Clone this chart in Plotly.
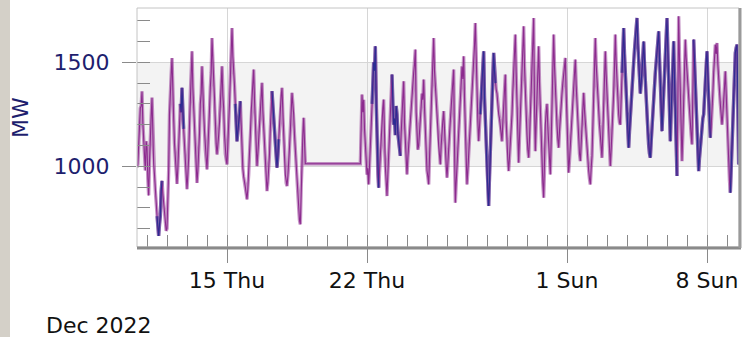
import pandas as pd
import plotly.graph_objects as go

# Grid load, hourly samples, two recorded stretches
seg1_start = "2022-12-10 12:00"
seg1_mw = [
    995, 1010, 1100, 1230, 1280, 1290, 1360, 1210, 1120, 1060,
    980, 1120, 1090, 940, 860, 1020, 1180, 1240, 1330, 1150,
    1010, 960, 880, 830, 760, 700, 665, 720, 760, 880,
    930, 870, 820, 790, 740, 690, 700, 820, 980, 1250,
    1400, 1440, 1520, 1300, 1230, 1110, 1020, 960, 915, 990,
    1080, 1150, 1300, 1260, 1377, 1250, 1180, 1060, 990, 940,
    890, 960, 1040, 1200, 1350, 1420, 1553, 1380, 1300, 1220,
    1080, 1010, 920, 980, 1060, 1160, 1300, 1350, 1481, 1330,
    1260, 1170, 1080, 1040, 985, 1060, 1130, 1270, 1380, 1450,
    1617, 1480, 1420, 1330, 1200, 1110, 1057, 1090, 1150, 1210,
    1320, 1380, 1481, 1340, 1280, 1150, 1060, 1030, 1009, 1090,
    1200, 1300, 1420, 1520, 1665, 1530, 1480, 1390, 1300, 1200,
    1120, 1170, 1200, 1250, 1313, 1180, 1050, 990, 950, 930,
    900, 870, 841, 890, 960, 1060, 1150, 1260, 1350, 1400,
    1465, 1320, 1230, 1100, 1001, 1060, 1120, 1200, 1290, 1330,
    1401, 1270, 1180, 1080, 1000, 930, 881, 920, 980, 1060,
    1180, 1280, 1361, 1290, 1230, 1150, 1080, 1040, 993, 1050,
    1130, 1210, 1290, 1340, 1377, 1240, 1150, 1050, 960, 920,
    905, 950, 1000, 1090, 1170, 1280, 1353, 1300, 1250, 1150,
    1080, 990, 930, 860, 800, 740, 721, 900, 1050, 1150,
    1233, 1100, 1012,
]

seg2_start = "2022-12-21 16:00"
seg2_mw = [
    1012, 1200, 1345, 1260, 1320, 1180, 1100, 1020, 960, 990, 913, 1000, 1080, 1220, 1300, 1380, 1500, 1460, 1577, 1300,
    1150, 960, 897, 980, 1050, 1110, 1200, 1280, 1321, 1090, 1000, 930, 857, 960, 1050, 1160, 1250, 1330, 1441, 1270,
    1200, 1230, 1150, 1290, 1250, 1160, 1120, 1090, 1050, 1160, 1250, 1310, 1409, 1210, 1100, 1020, 961, 1040, 1100, 1190,
    1250, 1300, 1350, 1380, 1450, 1490, 1561, 1260, 1150, 1080, 1100, 1170, 1220, 1300, 1350, 1320, 1417, 1280, 1150, 1060,
    980, 950, 913, 1040, 1150, 1290, 1400, 1480, 1617, 1460, 1400, 1300, 1250, 1180, 1100, 1060, 1009, 1100, 1180, 1220,
    1265, 1160, 1100, 1010, 945, 1000, 1050, 1150, 1220, 1290, 1350, 1390, 1465, 1100, 825, 920, 1000, 1110, 1180, 1260,
    1350, 1400, 1480, 1420, 1529, 1330, 1200, 1040, 913, 980, 1050, 1110, 1180, 1290, 1350, 1420, 1500, 1580, 1689, 1480,
    1350, 1220, 1121, 1200, 1250, 1340, 1400, 1470, 1553, 1330, 1200, 1090, 1000, 880, 809, 950, 1100, 1240, 1350, 1440,
    1545, 1460, 1400, 1370, 1350, 1290, 1250, 1230, 1200, 1150, 1120, 1210, 1300, 1380, 1441, 1220, 1100, 1030, 977, 1040,
    1100, 1180, 1250, 1360, 1450, 1520, 1633, 1450, 1300, 1120, 1017, 1140, 1250, 1380, 1500, 1560, 1673, 1480, 1350, 1240,
    1150, 1080, 1041, 1130, 1250, 1380, 1500, 1600, 1713, 1300, 1073, 1210, 1350, 1460, 1577, 1400, 1250, 1100, 1000, 920,
    849, 1050, 1200, 1260, 1300, 1190, 1100, 1020, 961, 1120, 1300, 1470, 1633, 1480, 1350, 1260, 1200, 1130, 1089, 1170,
    1250, 1310, 1350, 1400, 1450, 1490, 1521, 1350, 1200, 1060, 969, 1030, 1100, 1180, 1250, 1330, 1380, 1440, 1513, 1390,
    1300, 1190, 1100, 1060, 1025, 1110, 1200, 1290, 1353, 1270, 1200, 1150, 1100, 1030, 980, 940, 913, 990, 1050, 1190,
    1350, 1480, 1617, 1490, 1400, 1320, 1250, 1200, 1150, 1080, 1041, 1160, 1300, 1420, 1553, 1440, 1350, 1300, 1250, 1120,
    1001, 1080, 1150, 1250, 1350, 1480, 1633, 1500, 1400, 1320, 1250, 1210, 1200, 1320, 1450, 1560, 1665, 1540, 1450, 1380,
    1300, 1190, 1089, 1170, 1250, 1330, 1400, 1460, 1500, 1560, 1600, 1650, 1713, 1590, 1500, 1420, 1350, 1400, 1450, 1520,
    1600, 1490, 1400, 1320, 1250, 1170, 1100, 1060, 1041, 1120, 1200, 1250, 1300, 1380, 1450, 1500, 1550, 1600, 1649, 1520,
    1400, 1280, 1169, 1260, 1350, 1450, 1550, 1630, 1713, 1560, 1400, 1250, 1121, 1260, 1400, 1500, 1601, 1420, 1250, 1100,
    953, 1300, 1721, 1520, 1350, 1180, 1025, 1160, 1300, 1450, 1609, 1520, 1450, 1370, 1300, 1250, 1200, 1150, 1105, 1350,
    1609, 1500, 1400, 1270, 1150, 1060, 977, 1040, 1100, 1150, 1200, 1230, 1250, 1350, 1450, 1500, 1553, 1420, 1300, 1220,
    1137, 1190, 1250, 1350, 1450, 1520, 1585, 1540, 1593, 1490, 1400, 1350, 1300, 1250, 1200, 1250, 1300, 1380, 1457, 1330,
    1200, 1100, 1000, 930, 873, 990, 1100, 1220, 1350, 1450, 1545, 1570, 1585, 1300, 1009,
]
step = "1h"

# Periods drawn in the second (blue) colour
blue_from = ["2022-12-11 12:00", "2022-12-12 16:00", "2022-12-15 10:00", "2022-12-17 06:00",
             "2022-12-22 06:00", "2022-12-23 06:00", "2022-12-27 16:00", "2023-01-03 18:00",
             "2023-01-07 08:00", "2023-01-09 04:00"]
blue_to = ["2022-12-11 18:00", "2022-12-12 20:00", "2022-12-15 16:00", "2022-12-17 14:00",
           "2022-12-22 14:00", "2022-12-23 16:00", "2022-12-28 10:00", "2023-01-06 12:00",
           "2023-01-08 04:00", "2023-01-09 14:00"]

x_major = ["2022-12-15", "2022-12-22", "2023-01-01", "2023-01-08"]
x_range = ["2022-12-10 12:00", "2023-01-09 14:24"]
y_major = [1000, 1500]
y_range = [612, 1761]
y_title = "MW"
period_label = "Dec 2022"

PURPLE = "#8c2a8e"
BLUE = "#2c2c92"
NAVY = "#1e1e6e"
FONT = "DejaVu Sans"

t = list(pd.date_range(seg1_start, periods=len(seg1_mw), freq=step)) + \
    list(pd.date_range(seg2_start, periods=len(seg2_mw), freq=step))
mw = seg1_mw + seg2_mw

spans = [(pd.Timestamp(a), pd.Timestamp(b)) for a, b in zip(blue_from, blue_to)]
mw_blue = [v if any(a <= ti <= b for a, b in spans) else None for ti, v in zip(t, mw)]

fig = go.Figure()
# soft wide stroke under a thin core line for each colour
for ys, col in ((mw, PURPLE), (mw_blue, BLUE)):
    fig.add_trace(go.Scatter(x=t, y=ys, mode="lines", line=dict(color=col, width=3.4),
                             opacity=0.5, connectgaps=False, hoverinfo="skip", showlegend=False))
for ys, col in ((mw, PURPLE), (mw_blue, BLUE)):
    fig.add_trace(go.Scatter(x=t, y=ys, mode="lines", line=dict(color=col, width=1.1),
                             connectgaps=False, hoverinfo="x+y", showlegend=False))

W, H = 749, 337
ml, mr, mt, mb = 137, 10, 8, 90
pw, ph = W - ml - mr, H - mt - mb

shapes = [
    # light band between the labelled gridlines
    dict(type="rect", xref="paper", yref="y", x0=0, x1=1, y0=y_major[0], y1=y_major[1],
         fillcolor="#f3f3f3", line=dict(width=0), layer="below"),
    # thin frame
    dict(type="rect", xref="paper", yref="paper", x0=0, x1=1, y0=0, y1=1,
         line=dict(color="#c4c4c4", width=1), layer="above"),
    # heavier bottom and right edges
    dict(type="line", xref="paper", yref="paper", x0=0, x1=1 + 2 / pw, y0=-1 / ph, y1=-1 / ph,
         line=dict(color="#8a8a8a", width=3), layer="above"),
    dict(type="line", xref="paper", yref="paper", x0=1 + 1 / pw, x1=1 + 1 / pw, y0=-1 / ph, y1=1,
         line=dict(color="#9a9a9a", width=3), layer="above"),
    # grey strip at the far left of the window
    dict(type="rect", xref="paper", yref="paper", x0=-ml / pw, x1=(10 - ml) / pw,
         y0=-mb / ph - 0.1, y1=1 + mt / ph + 0.1,
         fillcolor="#d4d0c8", line=dict(width=0), layer="below"),
]

fig.update_layout(
    width=W, height=H,
    margin=dict(l=ml, r=mr, t=mt, b=mb, autoexpand=False),
    paper_bgcolor="white", plot_bgcolor="white",
    font=dict(family=FONT),
    shapes=shapes,
    annotations=[
        dict(text=y_title, textangle=-90, xref="paper", yref="paper",
             x=(20 - ml) / pw, y=(ph + mt - 118) / ph, xanchor="center", yanchor="middle",
             showarrow=False, font=dict(size=22, color=NAVY, family=FONT)),
        dict(text=period_label, xref="paper", yref="paper",
             x=(44 - ml) / pw, y=(ph + mt - 325) / ph, xanchor="left", yanchor="middle",
             showarrow=False, font=dict(size=22, color="#111111", family=FONT)),
    ],
)

fig.update_xaxes(
    type="date", range=x_range, tickvals=x_major, tickformat="%-d %a",
    ticks="outside", ticklen=15, tickcolor="#8a8a8a", tickwidth=1,
    tickfont=dict(size=22, color="#111111", family=FONT), ticklabelstandoff=-1,
    showgrid=True, gridcolor="#d6d6d6", gridwidth=1,
    showline=False, zeroline=False,
    minor=dict(ticks="inside", ticklen=12, tickcolor="#8a8a8a", dtick=86400000,
               tick0="2022-12-10", showgrid=False),
)
fig.update_yaxes(
    range=y_range, tickvals=y_major,
    ticks="outside", ticklen=14, tickcolor="#8a8a8a", tickwidth=1,
    tickfont=dict(size=22, color=NAVY, family=FONT), ticklabelstandoff=8,
    showgrid=True, gridcolor="#d6d6d6", gridwidth=1,
    showline=False, zeroline=False,
    minor=dict(ticks="inside", ticklen=13, tickcolor="#8a8a8a", dtick=100, tick0=0,
               showgrid=False),
)

fig.write_html("out.html")
